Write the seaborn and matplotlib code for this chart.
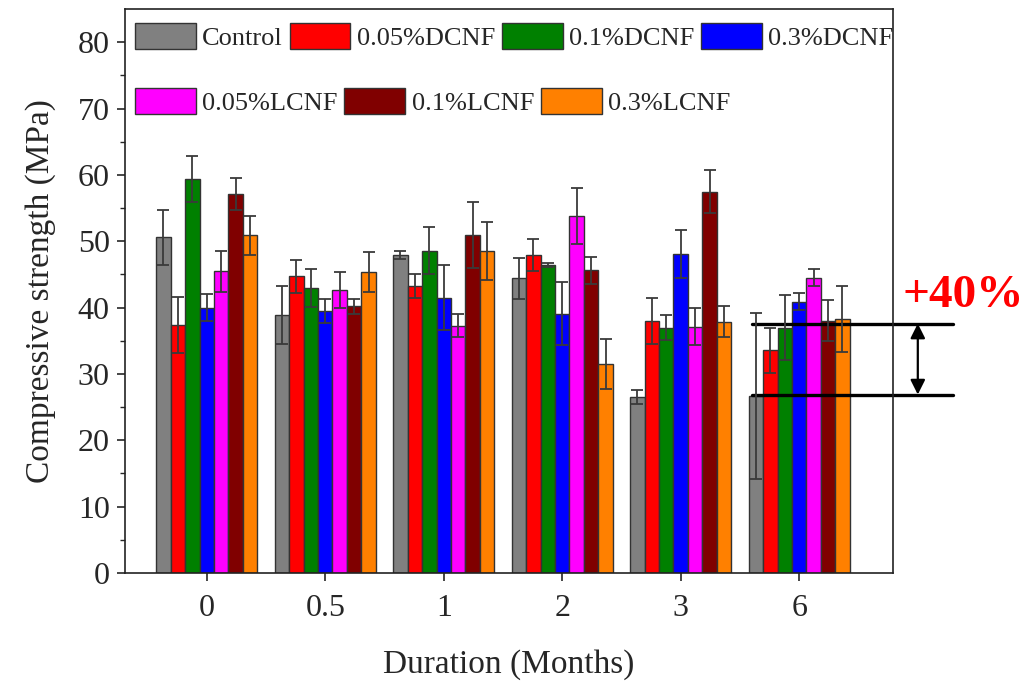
import numpy as np
import pandas as pd
import matplotlib
matplotlib.use('Agg')
import matplotlib.pyplot as plt
from matplotlib.patches import Patch
import seaborn as sns

# datos
durations = ['0', '0.5', '1', '2', '3', '6']
groups = ['Control', '0.05%DCNF', '0.1%DCNF', '0.3%DCNF', '0.05%LCNF', '0.1%LCNF', '0.3%LCNF']
colors = ['#808080', '#ff0000', '#008000', '#0000ff', '#ff00ff', '#800000', '#ff8000']

control = [50.6, 38.9, 47.9, 44.4, 26.5, 26.7]
control_err = [4.1, 4.4, 0.6, 3.1, 1.1, 12.5]
dcnf_005 = [37.4, 44.7, 43.3, 47.9, 38.0, 33.6]
dcnf_005_err = [4.2, 2.5, 1.8, 2.4, 3.5, 3.4]
dcnf_01 = [59.4, 43.0, 48.6, 46.4, 37.0, 37.0]
dcnf_01_err = [3.4, 2.9, 3.5, 0.3, 1.9, 4.9]
dcnf_03 = [40.0, 39.5, 41.5, 39.1, 48.1, 40.9]
dcnf_03_err = [2.0, 1.8, 4.9, 4.7, 3.6, 1.3]
lcnf_005 = [45.5, 42.6, 37.3, 53.8, 37.1, 44.5]
lcnf_005_err = [3.1, 2.7, 1.8, 4.2, 2.8, 1.3]
lcnf_01 = [57.1, 40.2, 51.0, 45.6, 57.5, 38.0]
lcnf_01_err = [2.4, 1.1, 5.0, 2.1, 3.2, 3.1]
lcnf_03 = [50.9, 45.4, 48.5, 31.5, 37.9, 38.3]
lcnf_03_err = [2.9, 3.0, 4.4, 3.7, 2.3, 5.0]

# lineas de la anotacion +40%
ann_low = 26.9
ann_high = 37.6
ann_text = '+40%'

series = [control, dcnf_005, dcnf_01, dcnf_03, lcnf_005, lcnf_01, lcnf_03]
errors = [control_err, dcnf_005_err, dcnf_01_err, dcnf_03_err, lcnf_005_err, lcnf_01_err, lcnf_03_err]

rows = []
for g, vals in zip(groups, series):
    for d, v in zip(durations, vals):
        rows.append({'Duration': d, 'Grupo': g, 'Strength': v})
data = pd.DataFrame(rows)

sns.set_style('ticks')
plt.rcParams['font.family'] = ['Liberation Serif', 'DejaVu Serif']

fig = plt.figure(figsize=(10.25, 6.81), dpi=100)
ax = fig.add_axes([0.122, 0.1586, 0.749, 0.828])

sns.barplot(data=data, x='Duration', y='Strength', hue='Grupo', order=durations,
            hue_order=groups, palette=colors, width=0.853, saturation=1,
            edgecolor='#333333', linewidth=1.0, errorbar=None, legend=False, ax=ax)

for cont, err in zip(ax.containers, errors):
    xs = [b.get_x() + b.get_width() / 2 for b in cont]
    ys = [b.get_height() for b in cont]
    ax.errorbar(xs, ys, yerr=err, fmt='none', ecolor='#3a3a3a', elinewidth=1.3,
                capsize=4, capthick=1.3, zorder=5)

ax.set_xlim(-0.69, 5.79)
ax.set_ylim(0, 85)
ax.set_yticks(np.arange(0, 81, 10))
ax.set_yticks(np.arange(5, 85, 10), minor=True)
ax.tick_params(axis='both', which='major', direction='out', length=6, width=1.2,
               labelsize=23, pad=5, top=False, right=False)
ax.tick_params(axis='x', which='major', pad=9)
ax.tick_params(axis='y', which='minor', direction='out', length=3.5, width=1.0)
for s in ax.spines.values():
    s.set_linewidth(1.2)
    s.set_color('#222222')

ax.set_xlabel('Duration (Months)', fontsize=24, labelpad=19)
ax.set_ylabel('Compressive strength (MPa)', fontsize=24, labelpad=16)

handles = [Patch(facecolor=c, edgecolor='#333333', linewidth=1.0, label=g) for c, g in zip(colors, groups)]
leg1 = ax.legend(handles=handles[:4], ncol=4, loc='center left', bbox_to_anchor=(0.013, 0.952),
                 frameon=False, fontsize=19, handlelength=2.3, handleheight=1.15,
                 handletextpad=0.25, columnspacing=0.25, borderpad=0, borderaxespad=0)
ax.add_artist(leg1)
ax.legend(handles=handles[4:], ncol=3, loc='center left', bbox_to_anchor=(0.013, 0.837),
          frameon=False, fontsize=19, handlelength=2.3, handleheight=1.15,
          handletextpad=0.25, columnspacing=0.25, borderpad=0, borderaxespad=0)

# anotacion fuera del area
tr = ax.get_yaxis_transform()
for yv in [ann_high, ann_low]:
    ax.plot([0.816, 1.078], [yv, yv], color='black', lw=2.4, transform=tr, clip_on=False)
ax.annotate('', xy=(1.0326, ann_low), xytext=(1.0326, ann_high), xycoords=tr, textcoords=tr,
            arrowprops=dict(arrowstyle='<|-|>', color='black', lw=1.6, mutation_scale=22,
                            shrinkA=0, shrinkB=0), annotation_clip=False)
ax.text(1.092, 41.8, ann_text, transform=tr, color='#ff0000', fontsize=34, fontweight='bold',
        ha='center', va='center', clip_on=False)

plt.savefig('out.png', dpi=100)
